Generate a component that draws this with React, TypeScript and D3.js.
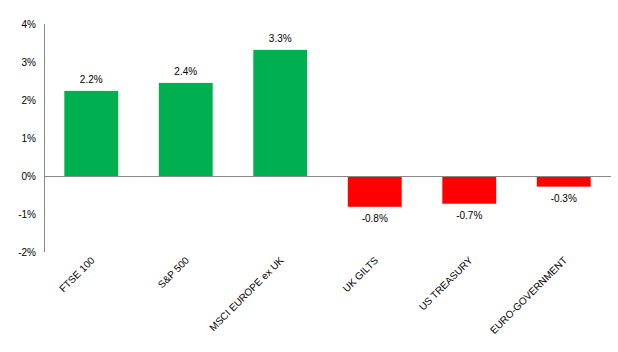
import React, { useEffect, useRef } from 'react';
import * as d3 from 'd3';

const categories = ['FTSE 100', 'S&P 500', 'MSCI EUROPE ex UK', 'UK GILTS', 'US TREASURY', 'EURO-GOVERNMENT'];
const returns = [2.24, 2.45, 3.32, -0.81, -0.73, -0.28];
const labels = ['2.2%', '2.4%', '3.3%', '-0.8%', '-0.7%', '-0.3%'];
const yTicks = [-2, -1, 0, 1, 2, 3, 4];

const App: React.FC = () => {
    const ref = useRef<SVGSVGElement | null>(null);

    useEffect(() => {
        if (!ref.current) return;
        const width = 618;
        const height = 352;
        const svg = d3.select(ref.current);
        svg.selectAll('*').remove();
        svg.attr('width', width).attr('height', height);

        const font = 'Liberation Sans, Arial, sans-serif';

        const x = d3.scaleBand<string>()
            .domain(categories)
            .range([44, 611])
            .paddingInner(0.43)
            .paddingOuter(0.215);

        const y = d3.scaleLinear().domain([-2, 4]).range([252, 24]);

        // y axis
        svg.append('line')
            .attr('x1', 44.5).attr('x2', 44.5)
            .attr('y1', y(4)).attr('y2', y(-2))
            .attr('stroke', '#888').attr('stroke-width', 1);

        svg.selectAll('.ytick')
            .data(yTicks)
            .enter()
            .append('text')
            .attr('x', 36)
            .attr('y', d => y(d))
            .attr('dy', '0.35em')
            .attr('text-anchor', 'end')
            .style('font-family', font)
            .style('font-size', '10px')
            .style('fill', '#000')
            .text(d => `${d}%`);

        // bars
        svg.selectAll('.bar')
            .data(returns)
            .enter()
            .append('rect')
            .attr('x', (d, i) => x(categories[i])!)
            .attr('width', x.bandwidth())
            .attr('y', d => y(Math.max(0, d)))
            .attr('height', d => Math.abs(y(d) - y(0)))
            .attr('fill', d => (d >= 0 ? '#00B050' : '#FF0000'));

        // zero line
        svg.append('line')
            .attr('x1', 44).attr('x2', 611)
            .attr('y1', y(0) + 0.5).attr('y2', y(0) + 0.5)
            .attr('stroke', '#888').attr('stroke-width', 1);

        // value labels
        svg.selectAll('.vlabel')
            .data(returns)
            .enter()
            .append('text')
            .attr('x', (d, i) => x(categories[i])! + x.bandwidth() / 2)
            .attr('y', d => (d >= 0 ? y(d) - 8 : y(d) + 15))
            .attr('text-anchor', 'middle')
            .style('font-family', font)
            .style('font-size', '10px')
            .style('fill', '#000')
            .text((d, i) => labels[i]);

        // category labels
        svg.selectAll('.clabel')
            .data(categories)
            .enter()
            .append('text')
            .attr('transform', d => `translate(${x(d)! + x.bandwidth() / 2 + 4}, 261) rotate(-45)`)
            .attr('text-anchor', 'end')
            .style('font-family', font)
            .style('font-size', '10px')
            .style('fill', '#000')
            .text(d => d);
    }, []);

    return <svg ref={ref} style={{ position: 'absolute', left: 0, top: 0 }} />;
};

export default App;
